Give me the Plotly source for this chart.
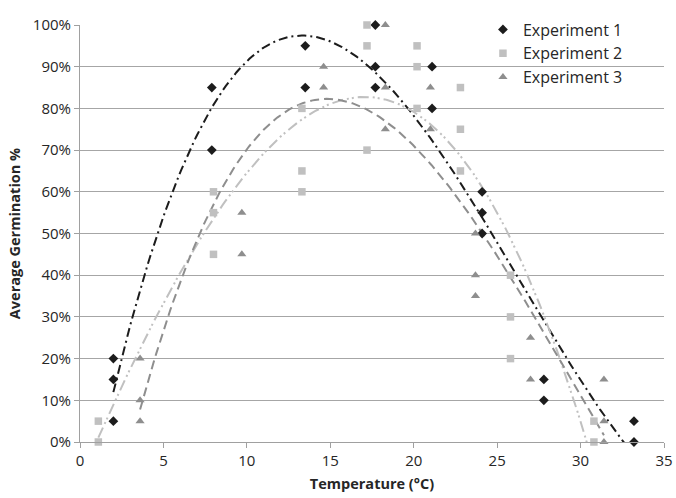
import numpy as np
import plotly.graph_objects as go

# ---- data (temperature in °C, germination in %) ----
exp1_x = [2.0, 2.0, 2.0, 7.9, 7.9, 13.5, 13.5, 17.7, 17.7, 17.7, 21.1, 21.1, 24.1, 24.1, 24.1, 27.8, 27.8, 33.2, 33.2]
exp1_y = [20, 15, 5, 85, 70, 95, 85, 100, 90, 85, 90, 80, 60, 55, 50, 15, 10, 5, 0]

exp2_x = [1.1, 1.1, 8.0, 8.0, 8.0, 13.3, 13.3, 13.3, 17.2, 17.2, 17.2, 20.2, 20.2, 20.2, 22.8, 22.8, 22.8, 25.8, 25.8, 25.8, 30.8, 30.8]
exp2_y = [5, 0, 60, 55, 45, 80, 65, 60, 100, 95, 70, 95, 90, 80, 85, 75, 65, 40, 30, 20, 5, 0]

exp3_x = [3.6, 3.6, 3.6, 9.7, 9.7, 14.6, 14.6, 18.3, 18.3, 18.3, 21.0, 21.0, 23.7, 23.7, 23.7, 27.0, 27.0, 31.4, 31.4, 31.4]
exp3_y = [20, 10, 5, 55, 45, 90, 85, 100, 85, 75, 85, 75, 50, 40, 35, 25, 15, 15, 5, 0]

names = ["Experiment 1", "Experiment 2", "Experiment 3"]
x_ticks = [0, 5, 10, 15, 20, 25, 30, 35]
y_ticks = [0, 0.1, 0.2, 0.3, 0.4, 0.5, 0.6, 0.7, 0.8, 0.9, 1.0]

# styles: symbol, colour, marker size, trendline dash
styles = [
    ("diamond", "#1c1c1c", 7.5, "9px,4px,2px,4px"),
    ("square", "#c0c0c0", 7.5, "11px,4px,2px,3px,2px,4px"),
    ("triangle-up", "#8e8e8e", 8, "9px,5px"),
]
data = [(exp1_x, exp1_y), (exp2_x, exp2_y), (exp3_x, exp3_y)]

FONT = "Open Sans"
fig = go.Figure()

# polynomial trendlines (order 3) fitted to each experiment's points
for (xs, ys), (sym, col, sz, dash) in zip(data, styles):
    xa = np.array(xs)
    ya = np.array(ys) / 100.0
    coef = np.polyfit(xa, ya, 3)
    xt = np.linspace(xa.min(), xa.max(), 200)
    yt = np.polyval(coef, xt)
    fig.add_trace(go.Scatter(x=xt, y=yt, mode="lines", showlegend=False,
                             line=dict(color=col, width=2, dash=dash),
                             hoverinfo="skip"))

for i, ((xs, ys), (sym, col, sz, dash)) in enumerate(zip(data, styles)):
    fig.add_trace(go.Scatter(x=xs, y=[v / 100.0 for v in ys], mode="markers",
                             name=names[i], legendgroup=names[i],
                             marker=dict(symbol=sym, color=col, size=sz, line=dict(width=0)),
                             cliponaxis=False))

fig.update_layout(
    width=676, height=498,
    margin=dict(l=80, r=12, t=17, b=56),
    paper_bgcolor="white", plot_bgcolor="white",
    font=dict(family=FONT, size=15, color="#262626"),
    showlegend=True,
    legend=dict(x=0.69, y=1.03, xanchor="left", yanchor="top",
                bgcolor="rgba(0,0,0,0)", font=dict(size=16, color="#262626"),
                tracegroupgap=0, itemwidth=30),
    xaxis=dict(range=[0, 35], tickvals=x_ticks, showgrid=False,
               showline=True, linecolor="#a0a0a0", linewidth=1,
               ticks="outside", ticklen=5, tickcolor="#a0a0a0",
               zeroline=False, automargin=False,
               title=dict(text="<b>Temperature (°C)</b>", font=dict(size=14.5), standoff=9)),
    yaxis=dict(range=[0, 1.0], tickvals=y_ticks, tickformat=".0%",
               showgrid=True, gridcolor="#a6a6a6", gridwidth=1,
               showline=True, linecolor="#a0a0a0", linewidth=1,
               ticks="outside", ticklen=5, tickcolor="#a0a0a0",
               zeroline=False,
               title=dict(text="<b>Average Germination %</b>", font=dict(size=14.5), standoff=8)),
)

# remove the browser's default 8px page margin so the figure sits at the top-left
fig.write_html("out.html", config={"displayModeBar": False},
               post_script="document.body.style.margin='0';")
